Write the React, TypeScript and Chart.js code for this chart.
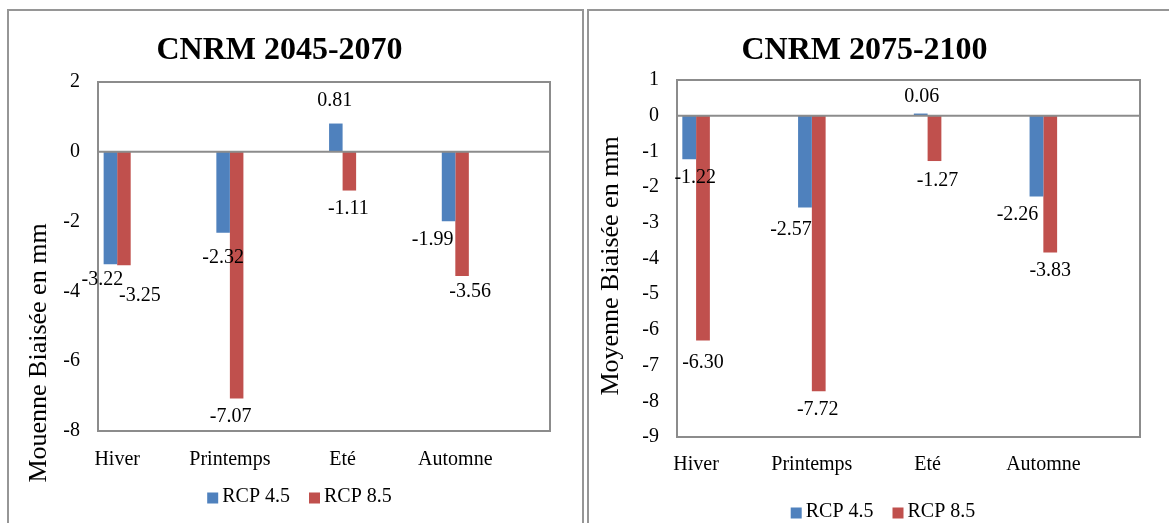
import React, { useEffect, useRef } from 'react';
import { Chart, registerables } from 'chart.js';

Chart.register(...registerables);

const categories = ['Hiver', 'Printemps', 'Eté', 'Automne'];
const seriesNames = ['RCP 4.5', 'RCP 8.5'];

const rcp45_2045 = [-3.22, -2.32, 0.81, -1.99];
const rcp85_2045 = [-3.25, -7.07, -1.11, -3.56];
const rcp45_2075 = [-1.22, -2.57, 0.06, -2.26];
const rcp85_2075 = [-6.3, -7.72, -1.27, -3.83];

const yTicks2045 = [2, 0, -2, -4, -6, -8];
const yTicks2075 = [1, 0, -1, -2, -3, -4, -5, -6, -7, -8, -9];

const title2045 = 'CNRM 2045-2070';
const title2075 = 'CNRM 2075-2100';
const yTitle2045 = 'Mouenne Biaisée en mm';
const yTitle2075 = 'Moyenne Biaisée en mm';

const COLORS = ['#4F81BD', '#C0504D'];
const FONT = '"Liberation Serif", "Times New Roman", serif';
const FRAME = '#8c8c8c';

type PanelCfg = {
  title: string;
  yTitle: string;
  series: number[][];
  yTicks: number[];
  width: number;
  height: number;
  xMin: number;
  xMax: number;
  catPct: number;
  yAxisWidth: number;
  xAxisHeight: number;
  xTickPad: number;
  padRight: number;
  padBottom: number;
  titlePadTop: number;
  titlePadBottom: number;
  yTitleDx: number;
  yTitleCy: number;
  legendCx: number;
  legendCy: number;
  nudges: number[][][];
};

function Panel({ cfg }: { cfg: PanelCfg }) {
  const ref = useRef<HTMLCanvasElement | null>(null);
  useEffect(() => {
    if (!ref.current) return;
    const ticks = cfg.yTicks;
    const yMax = Math.max(...ticks);
    const yMin = Math.min(...ticks);
    const step = Math.abs(ticks[0] - ticks[1]);

    const decor = {
      id: 'decor',
      afterDatasetsDraw(chart: any) {
        const { ctx, chartArea } = chart;
        const ys = chart.scales.y;
        ctx.save();
        ctx.strokeStyle = FRAME;
        ctx.lineWidth = 2;
        const z = ys.getPixelForValue(0);
        ctx.beginPath();
        ctx.moveTo(chartArea.left, z);
        ctx.lineTo(chartArea.right, z);
        ctx.stroke();
        ctx.strokeRect(chartArea.left, chartArea.top, chartArea.right - chartArea.left, chartArea.bottom - chartArea.top);

        ctx.font = '20px ' + FONT;
        ctx.fillStyle = '#000';
        ctx.textAlign = 'center';
        ctx.textBaseline = 'middle';
        chart.data.datasets.forEach((ds: any, di: number) => {
          const meta = chart.getDatasetMeta(di);
          meta.data.forEach((bar: any, i: number) => {
            const v = ds.data[i].y;
            const [dx, dy] = cfg.nudges[di][i];
            const off = 18 + dy;
            const y = v < 0 ? bar.y + off : bar.y - off;
            ctx.fillText(v.toFixed(2), bar.x + dx, y);
          });
        });
        ctx.restore();
      },
      afterDraw(chart: any) {
        const { ctx, chartArea } = chart;
        ctx.save();
        ctx.translate(chartArea.left - cfg.yTitleDx, cfg.yTitleCy);
        ctx.rotate(-Math.PI / 2);
        ctx.font = '26px ' + FONT;
        ctx.fillStyle = '#000';
        ctx.textAlign = 'center';
        ctx.textBaseline = 'middle';
        ctx.fillText(cfg.yTitle, 0, 0);
        ctx.restore();

        // legend
        ctx.save();
        ctx.font = '20px ' + FONT;
        ctx.textBaseline = 'middle';
        ctx.textAlign = 'left';
        const box = 11;
        const gapBox = 4;
        const gapItem = 19;
        const items = chart.data.datasets.map((ds: any) => ({
          label: ds.label as string,
          color: ds.backgroundColor as string,
          w: box + gapBox + ctx.measureText(ds.label).width,
        }));
        const total = items.reduce((s: number, it: any) => s + it.w, 0) + gapItem * (items.length - 1);
        let x = cfg.legendCx - total / 2;
        const cy = cfg.legendCy;
        items.forEach((it: any) => {
          ctx.fillStyle = it.color;
          ctx.fillRect(x, cy - box / 2 + 1, box, box);
          ctx.fillStyle = '#000';
          ctx.fillText(it.label, x + box + gapBox, cy);
          x += it.w + gapItem;
        });
        ctx.restore();
      },
    };

    const chart = new Chart(ref.current, {
      type: 'bar',
      data: {
        datasets: cfg.series.map((vals, si) => ({
          label: seriesNames[si],
          data: categories.map((_, i) => ({ x: i, y: vals[i] })),
          backgroundColor: COLORS[si],
          borderWidth: 0,
          categoryPercentage: cfg.catPct,
          barPercentage: 1,
        })),
      },
      options: {
        responsive: false,
        animation: false,
        devicePixelRatio: 1,
        events: [],
        layout: { padding: { left: 0, top: 0, right: cfg.padRight, bottom: cfg.padBottom } },
        scales: {
          x: {
            type: 'linear',
            offset: false,
            min: cfg.xMin,
            max: cfg.xMax,
            afterBuildTicks: (s: any) => {
              s.ticks = categories.map((_, i) => ({ value: i }));
            },
            afterFit: (s: any) => {
              s.height = cfg.xAxisHeight;
            },
            grid: { display: false, drawTicks: false, offset: false },
            border: { display: false },
            ticks: {
              autoSkip: false,
              maxRotation: 0,
              padding: cfg.xTickPad,
              color: '#000',
              font: { family: FONT, size: 20 },
              callback: (v: any) => categories[v as number] ?? '',
            },
          },
          y: {
            min: yMin,
            max: yMax,
            afterFit: (s: any) => {
              s.width = cfg.yAxisWidth;
            },
            grid: { display: false, drawTicks: false },
            border: { display: false },
            ticks: {
              stepSize: step,
              padding: 18,
              color: '#000',
              font: { family: FONT, size: 20 },
            },
          },
        },
        plugins: {
          title: {
            display: true,
            text: cfg.title,
            color: '#000',
            font: { family: FONT, size: 32, weight: 'bold' },
            padding: { top: cfg.titlePadTop, bottom: cfg.titlePadBottom },
          },
          legend: { display: false },
          tooltip: { enabled: false },
        },
      } as any,
      plugins: [decor],
    });
    return () => chart.destroy();
  }, [cfg]);
  return <canvas ref={ref} width={cfg.width} height={cfg.height} style={{ display: 'block' }} />;
}

const leftCfg: PanelCfg = {
  title: title2045,
  yTitle: yTitle2045,
  series: [rcp45_2045, rcp85_2045],
  yTicks: yTicks2045,
  width: 573,
  height: 512,
  xMin: -0.17,
  xMax: 3.84,
  catPct: 0.24,
  yAxisWidth: 89,
  xAxisHeight: 46,
  xTickPad: 17,
  padRight: 32,
  padBottom: 46,
  titlePadTop: 21,
  titlePadBottom: 11.6,
  yTitleDx: 58.5,
  yTitleCy: 342,
  legendCx: 290.5,
  legendCy: 486,
  nudges: [
    [[-8, -2], [0, 7], [-1, 5], [-16, 0]],
    [[16, 13], [-6, 0], [-1, 0], [8, -2]],
  ],
};

const rightCfg: PanelCfg = {
  title: title2075,
  yTitle: yTitle2075,
  series: [rcp45_2075, rcp85_2075],
  yTicks: yTicks2075,
  width: 580,
  height: 530,
  xMin: -0.165,
  xMax: 3.835,
  catPct: 0.238,
  yAxisWidth: 88,
  xAxisHeight: 48,
  xTickPad: 16,
  padRight: 29,
  padBottom: 56,
  titlePadTop: 21,
  titlePadBottom: 9.6,
  yTitleDx: 66,
  yTitleCy: 255,
  legendCx: 294,
  legendCy: 501,
  nudges: [
    [[6, 0], [-14, 4], [1, -1], [-19, 0]],
    [[0, 4], [-1, 0], [3, 2], [0, 0]],
  ],
};

const boxStyle = (left: number, width: number): React.CSSProperties => ({
  position: 'absolute',
  left,
  top: 9,
  width,
  height: 560,
  border: '2px solid #969696',
  boxSizing: 'border-box',
  background: '#fff',
});

export default function App() {
  return (
    <div
      style={{
        position: 'fixed',
        left: 0,
        top: 0,
        width: 1169,
        height: 523,
        overflow: 'hidden',
        background: '#fff',
      }}
    >
      <div style={boxStyle(7, 577)}>
        <Panel cfg={leftCfg} />
      </div>
      <div style={boxStyle(587, 600)}>
        <Panel cfg={rightCfg} />
      </div>
    </div>
  );
}
